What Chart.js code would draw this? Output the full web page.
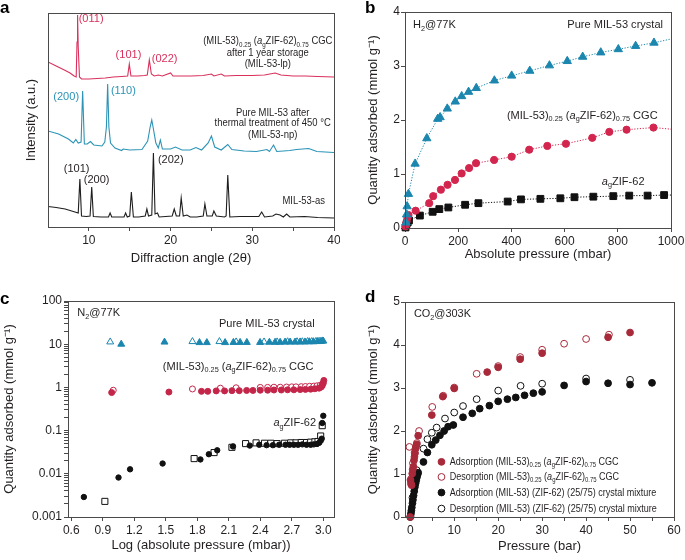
<!DOCTYPE html>
<html>
<head>
<meta charset="utf-8">
<title>MIL-53 / agZIF-62 sorption</title>
<script src="https://cdn.jsdelivr.net/npm/chart.js@4.4.1/dist/chart.umd.min.js"></script>
<style>
  html, body { margin: 0; padding: 0; background: #fff; }
  #fig { position: relative; width: 685px; height: 560px; }
  #fig canvas { position: absolute; }
</style>
</head>
<body>
<div id="fig">
  <canvas id="panelA" width="340" height="280" style="left:0;top:0"></canvas>
  <canvas id="panelB" width="345" height="280" style="left:340px;top:0"></canvas>
  <canvas id="panelC" width="340" height="280" style="left:0;top:280px"></canvas>
  <canvas id="panelD" width="345" height="280" style="left:340px;top:280px"></canvas>
</div>
<script>
const FONT = '"Liberation Sans", Arial, Helvetica, sans-serif';
const INK = '#231f20';
const AXIS = '#4a4a4a';

// ---- a: XRD patterns, [2θ (deg), intensity (a.u., stacked)] ----
const xrdLp = [[5,165],[6,161],[7,157],[7.7,154],[8.2,151],[8.45,150],[8.55,185],[8.62,212],[8.7,180],[8.85,150],[9.1,148],[10,148],[11,148.5],[12,149],[13,150],[14,150.5],[14.75,151],[14.95,163],[15.15,151],[16,151],[16.8,151.5],[17.15,152],[17.4,167],[17.65,153],[18,151],[18.5,152],[19,151],[20,154],[20.3,151],[21.5,151],[22.5,151],[24,151.5],[25,153],[25.3,151],[26.2,153],[26.6,151],[28,151.5],[30,151.5],[31.5,152],[32.8,154],[33.5,152],[35,151],[36.5,151],[38,150.5],[40,150]];
const xrdNp = [[5,96],[6.3,93],[7.5,88],[8.1,84],[8.4,87.5],[8.7,84],[9.05,85],[9.24,136],[9.45,83],[9.8,83],[10.2,85.5],[10.6,82],[11.6,81],[11.95,85],[12.15,100],[12.3,143],[12.45,100],[12.65,84],[13.2,79],[14,76.5],[14.2,78],[15,77],[16.5,77.5],[17.2,86],[17.5,100],[17.7,107],[17.9,98],[18.2,84],[18.5,79],[18.75,87],[19,78],[20,78],[20.6,80],[21.4,77],[22.4,77],[23.1,79.5],[23.8,77],[24.6,84],[25,91],[25.4,80],[26.2,77],[27,82.5],[27.5,77.5],[29,76],[30.5,75.5],[31.8,77.5],[32.1,75.5],[32.6,82],[33,75.5],[34.6,76.5],[35.4,77.5],[36.9,78.5],[37.9,75.5],[40,74.5]];
const xrdAs = [[5,20.5],[6,19.5],[7.1,18],[8.3,15],[8.7,14],[8.9,48],[9.1,11],[9.7,10.5],[10.15,11],[10.35,40],[10.55,10.5],[11.5,10],[12.4,10],[12.6,14],[12.8,10],[14.3,10],[14.5,14],[14.7,10],[15,11],[15.2,35],[15.45,10],[16.1,10],[16.9,11],[17.1,18],[17.3,11],[17.7,12],[17.9,74],[18.1,13],[18.4,14],[18.6,10],[20.2,11],[20.45,18],[20.7,11],[21.1,11],[21.3,29],[21.55,11],[22,12],[22.4,10],[23.2,10],[24,11],[24.2,23],[24.45,11],[25.1,11],[25.3,16],[25.6,11],[26.6,10],[26.8,11],[27,52],[27.25,10],[28.5,10.5],[29.6,10.5],[30.8,10.5],[31.15,15],[31.5,10],[32.5,11],[32.9,13],[33.4,12],[33.8,10],[34.2,13],[34.6,10],[36.4,10.5],[38,9.5],[40,9]];
const xTicksA = [10, 15, 20, 25, 30, 35, 40];
const xLabelsA = [10, 20, 30, 40];

// ---- b: H2 at 77 K, [mbar, mmol/g] ----
const h2Mil53 = [[4,0.1],[6,0.25],[8,0.4],[13,0.63],[38,1.19],[82,1.66],[123,2.02],[132,2.05],[159,2.21],[189,2.34],[213,2.44],[239,2.52],[268,2.59],[336,2.73],[401,2.82],[469,2.91],[543,3.01],[610,3.09],[668,3.17],[736,3.25],[802,3.31],[867,3.37],[936,3.43],[1000,3.5]];
const h2Cgc = [[2,0.03],[4,0.07],[6,0.12],[9,0.19],[13,0.24],[40,0.32],[91,0.46],[106,0.59],[135,0.71],[160,0.8],[188,0.89],[213,1.01],[241,1.11],[267,1.2],[335,1.26],[401,1.32],[467,1.45],[535,1.52],[605,1.56],[704,1.67],[768,1.78],[833,1.82],[934,1.86],[1000,1.83]];
const h2Zif = [[2,0.01],[5,0.05],[10,0.1],[15,0.14],[56,0.23],[104,0.3],[129,0.35],[163,0.38],[226,0.43],[276,0.46],[386,0.49],[436,0.53],[509,0.54],[584,0.55],[637,0.57],[708,0.58],[783,0.59],[843,0.6],[912,0.6],[974,0.61],[1000,0.61]];
const xTicksB = [0, 200, 400, 600, 800, 1000];
const yTicksB = [0, 1, 2, 3, 4];

// ---- c: N2 at 77 K, [log p (mbar), mmol/g] ----
const n2Mil53Ads = [[1.076,10],[1.488,11.2],[1.821,10.9],[1.891,10.9],[2.065,10.9],[2.144,11],[2.208,11],[2.272,11],[2.398,11],[2.487,11.1],[2.541,11.1],[2.589,11.1],[2.636,11.2],[2.684,11.2],[2.731,11.2],[2.779,11.3],[2.826,11.3],[2.867,11.4],[2.906,11.4],[2.944,11.5],[2.976,11.6],[3.0,11.8]];
const n2Mil53Des = [[0.971,11.3],[1.754,11.5],[2.011,11.5],[2.17,11.3],[2.436,11.3],[2.56,11.3],[2.66,11.4],[2.75,11.4],[2.8,11.4],[2.85,11.5],[2.89,11.5],[2.93,11.6],[2.96,11.7],[2.99,11.9]];
const n2CgcAds = [[0.985,0.76],[1.53,0.78],[1.84,0.81],[1.9,0.81],[1.98,0.83],[2.06,0.83],[2.13,0.84],[2.2,0.84],[2.27,0.85],[2.33,0.85],[2.4,0.86],[2.47,0.86],[2.53,0.87],[2.6,0.87],[2.66,0.88],[2.72,0.88],[2.78,0.89],[2.83,0.9],[2.88,0.91],[2.92,0.93],[2.96,0.96],[2.98,1.02],[2.99,1.1],[3.0,1.25],[3.005,1.45]];
const n2CgcDes = [[1.0,0.86],[1.754,0.92],[2.02,0.96],[2.17,0.98],[2.4,1.0],[2.47,1.0],[2.53,1.01],[2.59,1.01],[2.65,1.02],[2.7,1.03],[2.74,1.03],[2.79,1.04],[2.83,1.05],[2.87,1.06],[2.91,1.07],[2.94,1.09],[2.97,1.12],[2.99,1.2]];
const n2ZifAds = [[0.72,0.0029],[1.05,0.0082],[1.16,0.0127],[1.47,0.0173],[1.83,0.0215],[1.91,0.0284],[1.99,0.035],[2.14,0.043],[2.3,0.045],[2.39,0.047],[2.46,0.046],[2.52,0.046],[2.58,0.047],[2.64,0.047],[2.68,0.047],[2.72,0.047],[2.76,0.047],[2.8,0.048],[2.84,0.047],[2.88,0.047],[2.91,0.048],[2.94,0.049],[2.96,0.052],[2.975,0.058],[2.985,0.065],[2.99,0.15],[3.0,0.22]];
const n2ZifDes = [[0.92,0.0023],[1.77,0.0225],[1.96,0.031],[2.13,0.041],[2.26,0.05],[2.36,0.052],[2.44,0.051],[2.5,0.051],[2.56,0.05],[2.63,0.051],[2.69,0.052],[2.74,0.052],[2.79,0.053],[2.84,0.053],[2.88,0.054],[2.92,0.055],[2.95,0.056],[2.975,0.075],[2.99,0.13]];
const xTicksC = [0.6, 0.9, 1.2, 1.5, 1.8, 2.1, 2.4, 2.7, 3.0];
const yLabelsC = ['0.001', '0.01', '0.1', '1', '10', '100'];

// ---- d: CO2 at 303 K, [bar, mmol/g] ----
const co2CgcAds = [[0,0],[0.05,0.86],[0.15,0.78],[0.3,0.74],[0.45,1.01],[0.55,1.1],[0.7,1.17],[0.85,1.32],[0.95,1.4],[1.07,1.48],[1.2,1.59],[1.35,1.65],[1.45,1.69],[1.8,1.89],[4.9,2.37],[7.4,2.8],[10,2.99],[17.5,3.37],[20,3.48],[25,3.67],[30,3.81],[45,4.18],[50,4.29]];
const co2CgcDes = [[-0.2,1.63],[0.3,0.9],[0.6,1.25],[1.0,1.5],[1.5,1.72],[2.0,2.0],[5.0,2.56],[7.5,2.82],[10,3.01],[15.1,3.33],[20,3.51],[25,3.72],[30,3.89],[35,4.03],[40,4.14],[45.2,4.24]];
const co2MixAds = [[0,0],[0.05,0.02],[0.15,0.08],[0.25,0.15],[0.35,0.22],[0.5,0.32],[0.6,0.4],[0.75,0.5],[0.9,0.6],[1.05,0.7],[1.2,0.78],[1.35,0.85],[1.5,0.92],[1.65,0.98],[1.8,1.03],[3.0,1.28],[3.9,1.5],[4.9,1.68],[5.8,1.79],[6.75,1.9],[7.7,2.0],[8.6,2.1],[9.8,2.14],[12,2.32],[14.1,2.41],[15.8,2.52],[18,2.59],[20,2.69],[22.1,2.74],[24,2.78],[26,2.83],[28,2.88],[30,2.91],[35,3.06],[40,3.15],[45,3.11],[50,3.08],[55,3.12]];
const co2MixDes = [[0.5,0.45],[1.0,0.8],[1.45,1.09],[3,1.59],[3.9,1.81],[4.9,1.96],[6,2.08],[7.9,2.29],[10,2.43],[12,2.58],[15.1,2.74],[20,2.94],[25.1,3.05],[30,3.1],[40,3.22],[50,3.19]];
const xTicksD = [0, 5, 10, 15, 20, 25, 30, 35, 40, 45, 50, 55, 60];
const xLabelsD = [0, 10, 20, 30, 40, 50, 60];
const yTicksD = [0, 1, 2, 3, 4, 5];

const RED_A = '#d9305c', BLUE_A = '#2b93b6', BLACK_A = '#1e1e1e';
const BLUE = '#1b86ae', RED_B = '#d3264f', RED_C = '#c4264a', RED_D = '#a8293a', BLACK = '#111';

const CGC = ['(MIL-53)', {t: '0.25', sub: true}, ' (', {t: 'a', it: true}, {t: 'g', sub: true}, 'ZIF-62)', {t: '0.75', sub: true}, ' CGC'];
const AGZIF = [{t: 'a', it: true}, {t: 'g', sub: true}, 'ZIF-62'];
const YTITLE = 'Quantity adsorbed (mmol g\u207B\u00B9)';

const pts = a => a.map(([x, y]) => ({x, y}));

// text with subscripts / italics, squeezed horizontally like the original
function drawRich(ctx, parts, x, y, align, size, color, sq) {
  const segs = parts.map(p => typeof p === 'string' ? {t: p} : p);
  const fontOf = s => (s.it ? 'italic ' : '') + (s.sub ? size * 0.66 : size) + 'px ' + FONT;
  let w = 0;
  segs.forEach(s => { ctx.font = fontOf(s); s.w = ctx.measureText(s.t).width * sq; w += s.w; });
  let cx = align === 'right' ? x - w : align === 'center' ? x - w / 2 : x;
  ctx.save();
  ctx.fillStyle = color;
  ctx.textBaseline = 'middle';
  ctx.textAlign = 'left';
  segs.forEach(s => {
    ctx.font = fontOf(s);
    ctx.save();
    ctx.translate(cx, y + (s.sub ? size * 0.32 : 0));
    ctx.scale(sq, 1);
    ctx.fillText(s.t, 0, 0);
    ctx.restore();
    cx += s.w;
  });
  ctx.restore();
}

function axis(o) {
  return {
    type: o.type || 'linear',
    min: o.min, max: o.max,
    afterBuildTicks: ax => { ax.ticks = o.ticks.map(v => ({value: v})); },
    afterFit: ax => {
      if (ax.isHorizontal()) { ax.height = o.size; ax.paddingLeft = 0; ax.paddingRight = 0; }
      else { ax.width = o.size; ax.paddingTop = 0; ax.paddingBottom = 0; }
    },
    grid: {display: true, drawOnChartArea: false, drawTicks: true, tickLength: 4, tickColor: AXIS, tickWidth: 1},
    border: {display: true, color: AXIS, width: 1},
    ticks: {display: o.labels !== false, font: {family: FONT, size: 12}, color: INK, padding: o.pad == null ? 2 : o.pad,
            autoSkip: false, maxRotation: 0, callback: o.label || (v => String(v))},
    title: {display: true, text: o.title, font: {family: FONT, size: 13}, color: INK, padding: 0}
  };
}

function extras(letter, lx, ly, notes, more) {
  return {
    id: 'extras',
    afterDatasetsDraw(chart) {
      const {ctx, scales} = chart;
      notes.forEach(n => drawRich(ctx, n.parts, scales.x.getPixelForValue(n.x), scales.y.getPixelForValue(n.y),
        n.align || 'left', n.size || 11.5, n.color || INK, n.sq || 0.96));
      if (more) more(chart);
    },
    afterDraw(chart) {
      const {ctx, chartArea: a} = chart;
      ctx.save();
      ctx.strokeStyle = AXIS;
      ctx.lineWidth = 1;
      ctx.strokeRect(Math.round(a.left) + 0.5, Math.round(a.top) + 0.5, Math.round(a.right - a.left), Math.round(a.bottom - a.top));
      ctx.font = 'bold 17px ' + FONT;
      ctx.fillStyle = '#000';
      ctx.textBaseline = 'alphabetic';
      ctx.fillText(letter, lx, ly);
      ctx.restore();
    }
  };
}

function options(padding, scales) {
  return {
    responsive: false, animation: false, events: [],
    layout: {padding},
    plugins: {legend: {display: false}, tooltip: {enabled: false}},
    scales
  };
}

const trace = (data, color) => ({data: pts(data), showLine: true, borderColor: color, borderWidth: 1.1, pointRadius: 0});
const marks = (data, style, color, r, open, line) => ({
  data: pts(data), pointStyle: style, pointRadius: line ? (c => c.dataIndex === data.length - 1 ? 0 : r) : r,
  pointBorderWidth: 1, pointBackgroundColor: open ? '#fff' : color, pointBorderColor: color,
  showLine: !!line, borderColor: color, borderWidth: 1, borderDash: [1.2, 1.6], clip: false
});

// ---------- a ----------
const notesA = [
  {x: 8.75, y: 208, parts: ['(011)'], color: RED_A},
  {x: 14.85, y: 172.5, parts: ['(101)'], align: 'center', color: RED_A},
  {x: 17.7, y: 168.5, parts: ['(022)'], color: RED_A},
  {x: 8.8, y: 130.5, parts: ['(200)'], align: 'right', color: BLUE_A},
  {x: 12.7, y: 136.5, parts: ['(110)'], color: BLUE_A},
  {x: 8.5, y: 58.5, parts: ['(101)'], align: 'center'},
  {x: 10.95, y: 47, parts: ['(200)'], align: 'center'},
  {x: 18.45, y: 67.5, parts: ['(202)']},
  {x: 31.9, y: 186, parts: CGC, align: 'center', size: 11, sq: 0.86},
  {x: 31.9, y: 174.5, parts: ['after 1 year storage'], align: 'center', size: 11, sq: 0.86},
  {x: 31.9, y: 163.5, parts: ['(MIL-53-lp)'], align: 'center', size: 11, sq: 0.86},
  {x: 32.5, y: 114.5, parts: ['Pure MIL-53 after'], align: 'center', size: 11, sq: 0.86},
  {x: 32.5, y: 104, parts: ['thermal treatment of 450 \u00B0C'], align: 'center', size: 11, sq: 0.86},
  {x: 32.5, y: 92.5, parts: ['(MIL-53-np)'], align: 'center', size: 11, sq: 0.86},
  {x: 38.9, y: 26, parts: ['MIL-53-as'], align: 'right', size: 11, sq: 0.86}
];
new Chart(document.getElementById('panelA'), {
  type: 'scatter',
  data: {datasets: [trace(xrdLp, RED_A), trace(xrdNp, BLUE_A), trace(xrdAs, BLACK_A)]},
  options: options({left: 24, top: 13, right: 6, bottom: 14}, {
    x: axis({min: 5, max: 40, ticks: xTicksA, size: 39, title: 'Diffraction angle (2\u03B8)',
             label: v => xLabelsA.includes(v) ? String(v) : ''}),
    y: axis({min: 0, max: 214, ticks: [], labels: false, size: 24, title: 'Intensity (a.u.)'})
  }),
  plugins: [extras('a', 0, 13, notesA)]
});

// ---------- b ----------
const notesB = [
  {x: 30, y: 3.76, parts: ['H', {t: '2', sub: true}, '@77K']},
  {x: 970, y: 3.76, parts: ['Pure MIL-53 crystal'], align: 'right'},
  {x: 383, y: 2.08, parts: CGC},
  {x: 740, y: 0.86, parts: AGZIF}
];
new Chart(document.getElementById('panelB'), {
  type: 'scatter',
  data: {datasets: [
    marks(h2Mil53, 'triangle', BLUE, 4.8, false, true),
    marks(h2Cgc, 'circle', RED_B, 3.6, false, true),
    marks(h2Zif, 'rect', BLACK, 4.8, false, true)
  ]},
  options: options({left: 26, top: 12, right: 14, bottom: 18}, {
    x: axis({min: 0, max: 1000, ticks: xTicksB, size: 34, title: 'Absolute pressure (mbar)'}),
    y: axis({min: 0, max: 4, ticks: yTicksB, size: 39, pad: 1, title: YTITLE})
  }),
  plugins: [extras('b', 25, 13, notesB)]
});

// ---------- c ----------
const notesC = [
  {x: 0.657, y: 52, parts: ['N', {t: '2', sub: true}, '@77K']},
  {x: 2.462, y: 29, parts: ['Pure MIL-53 crystal'], align: 'center'},
  {x: 1.472, y: 3.07, parts: CGC},
  {x: 2.525, y: 0.15, parts: AGZIF}
];
const logTicks = [];
yLabelsC.forEach((lab, i) => {
  const base = Number(lab);
  for (let m = 1; m <= (i === yLabelsC.length - 1 ? 1 : 9); m++) logTicks.push(+(m * base).toPrecision(3));
});
new Chart(document.getElementById('panelC'), {
  type: 'scatter',
  data: {datasets: [
    marks(n2Mil53Ads, 'triangle', BLUE, 4, false),
    marks(n2Mil53Des, 'triangle', BLUE, 4, true),
    marks(n2CgcAds, 'circle', RED_C, 3, false),
    marks(n2CgcDes, 'circle', RED_C, 3, true),
    marks(n2ZifAds, 'circle', BLACK, 2.7, false),
    marks(n2ZifDes, 'rect', BLACK, 4.3, true)
  ]},
  options: options({left: 2, top: 21, right: 6, bottom: 7}, {
    x: axis({min: 0.569, max: 3.102, ticks: xTicksC, size: 36, title: 'Log (absolute pressure (mbar))',
             label: v => v.toFixed(1)}),
    y: axis({type: 'logarithmic', min: 0.001, max: 100, ticks: logTicks, size: 66, title: YTITLE,
             label: v => { const i = yLabelsC.indexOf(String(v)); return i >= 0 ? yLabelsC[i] : ''; }})
  }),
  plugins: [extras('c', 0, 24, notesC)]
});

// ---------- d ----------
const notesD = [
  {x: 0.84, y: 4.72, parts: ['CO', {t: '2', sub: true}, '@303K'], sq: 0.95}
];
const legendD = [
  {y: 1.282, fill: RED_D, stroke: RED_D, parts: ['Adsorption '].concat(CGC)},
  {y: 0.932, fill: '#fff', stroke: RED_D, parts: ['Desorption '].concat(CGC)},
  {y: 0.569, fill: BLACK, stroke: BLACK, parts: ['Adsorption (MIL-53) (ZIF-62) (25/75) crystal mixture']},
  {y: 0.196, fill: '#fff', stroke: BLACK, parts: ['Desorption (MIL-53) (ZIF-62) (25/75) crystal mixture']}
];
function drawLegendD(chart) {
  const {ctx, scales: {x, y}} = chart;
  legendD.forEach(e => {
    const py = y.getPixelForValue(e.y);
    ctx.save();
    ctx.beginPath();
    ctx.arc(x.getPixelForValue(7.1), py, 3.4, 0, Math.PI * 2);
    ctx.fillStyle = e.fill; ctx.fill();
    ctx.strokeStyle = e.stroke; ctx.lineWidth = 1; ctx.stroke();
    ctx.restore();
    drawRich(ctx, e.parts, x.getPixelForValue(9.0), py, 'left', 11, INK, 0.82);
  });
}
new Chart(document.getElementById('panelD'), {
  type: 'scatter',
  data: {datasets: [
    marks(co2CgcAds, 'circle', RED_D, 3.4, false),
    marks(co2MixAds, 'circle', BLACK, 3.4, false),
    marks(co2CgcDes, 'circle', RED_D, 3.4, true),
    marks(co2MixDes, 'circle', BLACK, 3.4, true)
  ]},
  options: options({left: 26, top: 22, right: 11, bottom: 6}, {
    x: axis({min: -1.2, max: 60, ticks: xTicksD, size: 37, title: 'Pressure (bar)',
             label: v => xLabelsD.includes(v) ? String(v) : ''}),
    y: axis({min: 0, max: 5, ticks: yTicksD, size: 39, pad: 1, title: YTITLE})
  }),
  plugins: [extras('d', 25, 22, notesD, drawLegendD)]
});
</script>
</body>
</html>
